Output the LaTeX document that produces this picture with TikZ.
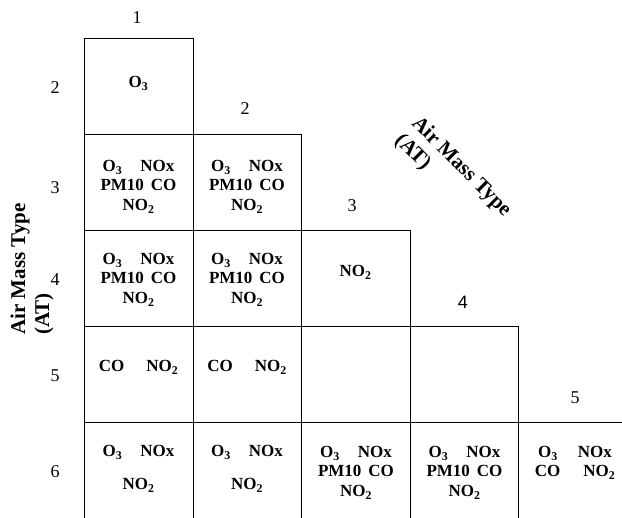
\documentclass[tikz,border=0pt]{standalone}
\usepackage{fontspec}
\setmainfont{Liberation Serif}
\newfontfamily\arialfont{Liberation Sans}
\newcommand*{\Othr}{O\textsubscript{3}}
\newcommand*{\NOt}{NO\textsubscript{2}}
\begin{document}
\begin{tikzpicture}[x=1pt,y=-1pt,
  grid/.style={line width=1pt, line cap=rect},
  num/.style={font=\fontsize{18}{20}\selectfont, inner sep=0},
  cell/.style={font=\fontsize{17}{19.5}\selectfont\bfseries, align=center, inner sep=0, anchor=north},
  axislab/.style={font=\fontsize{21}{24}\selectfont\bfseries, inner sep=0, align=left, anchor=west}]
\useasboundingbox (0,0) rectangle (622,518);
% grid
\draw[grid] (84,518) -- (84,39) -- (193,39) -- (193,518);
\draw[grid] (84,135) -- (301,135) -- (301,518);
\draw[grid] (84,231) -- (410,231) -- (410,518);
\draw[grid] (84,327) -- (518,327) -- (518,518);
\draw[grid] (84,423) -- (622,423);
% column labels
\node[num] (k1) at (137,17.5) {1};
\node[num] (k2) at (245,108.5) {2};
\node[num] (k3) at (352,206) {3};
\node[num,font=\fontsize{18}{20}\selectfont\arialfont] (k4) at (463,302) {4};
\node[num] (k5) at (575,398) {5};
% row labels
\node[num] (r2) at (55,88) {2};
\node[num] (r3) at (55,188) {3};
\node[num] (r4) at (55,280) {4};
\node[num] (r5) at (55,375.5) {5};
\node[num] (r6) at (55,471.5) {6};
% axis labels
\node[axislab, rotate=90] (va) at (32,335) {Air Mass Type\\(AT)};
\node[axislab, rotate=-45] (da) at (406,129) {Air Mass Type\\(AT)};
% cells
\node[cell] (c21) at (138.5,76) {\Othr};
\node[cell] (c31) at (138.5,160) {\Othr\hspace{18pt}NOx\\PM10\hspace{7pt}CO\\\NOt};
\node[cell] (c32) at (247,160) {\Othr\hspace{18pt}NOx\\PM10\hspace{7pt}CO\\\NOt};
\node[cell] (c41) at (138.5,253) {\Othr\hspace{18pt}NOx\\PM10\hspace{7pt}CO\\\NOt};
\node[cell] (c42) at (247,253) {\Othr\hspace{18pt}NOx\\PM10\hspace{7pt}CO\\\NOt};
\node[cell] (c43) at (355.5,265) {\NOt};
\node[cell] (c51) at (138.5,360) {CO\hspace{22pt}\NOt};
\node[cell] (c52) at (247,360) {CO\hspace{22pt}\NOt};
\node[cell] (c61) at (138.5,445) {\Othr\hspace{18pt}NOx\\[13.5pt]\NOt};
\node[cell] (c62) at (247,445) {\Othr\hspace{18pt}NOx\\[13.5pt]\NOt};
\node[cell] (c63) at (356,446) {\Othr\hspace{18pt}NOx\\PM10\hspace{7pt}CO\\\NOt};
\node[cell] (c64) at (464.5,446) {\Othr\hspace{18pt}NOx\\PM10\hspace{7pt}CO\\\NOt};
\node[cell] (c65) at (575,446) {\Othr\hspace{20pt}NOx\\CO\hspace{23pt}\NOt};
\end{tikzpicture}
\end{document}
